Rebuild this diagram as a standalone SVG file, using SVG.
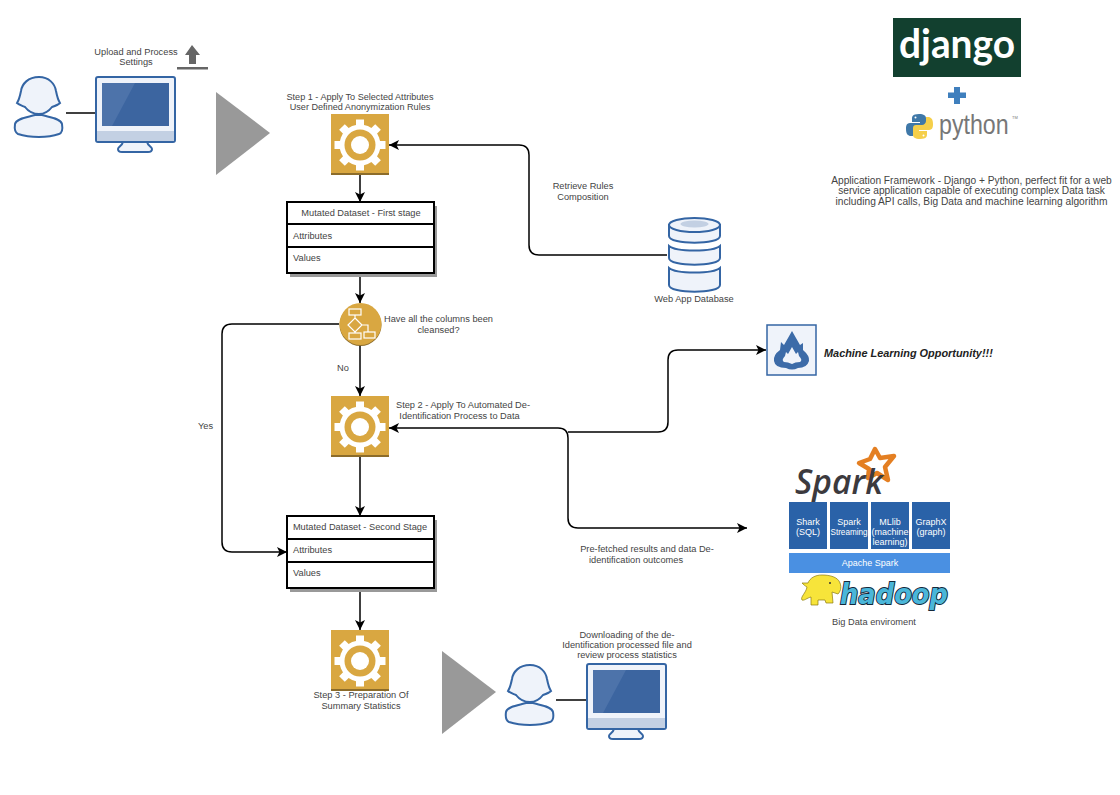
<svg xmlns="http://www.w3.org/2000/svg" xmlns:xlink="http://www.w3.org/1999/xlink" width="1120" height="795" viewBox="0 0 1120 795">
<style>
text{font-family:"Liberation Sans",Arial,sans-serif;font-size:9.250px;fill:#444}
.m{text-anchor:middle}
.c{fill:none;stroke:#000;stroke-width:1.5}
.ca{fill:none;stroke:#000;stroke-width:1.5;marker-end:url(#a)}
.b{stroke:#3465a4;stroke-width:2;fill:#eff3fa}
.t{fill:#fff;stroke:#000;stroke-width:2}
.s{fill:#999}
.w{fill:#fff;font-size:9px}
.bx{fill:#2a62a8}
</style>
<defs>
<marker id="a" markerUnits="userSpaceOnUse" markerWidth="12" markerHeight="12" refX="10" refY="5" orient="auto"><path d="M0 0L10 5L0 10L2.5 5Z" fill="#000"/></marker>
<symbol id="user" overflow="visible">
<path class="b" d="M20 39C14 41 1 42 0 48C-1 55 1 57 3 58C15 62 33 62 44 58C47 57 48 54 47 48C46 42 33 41 27 39Z"/>
<path class="b" d="M24 1C13 1 7 8 6 15C5 20 4 24 2 27C4 29 8 30 10 31C13 35 18 38 24 38C30 38 34 35 37 31C40 30 43 29 45 27C43 24 42 20 41 15C40 8 34 1 24 1Z"/>
</symbol>
<symbol id="monitor" overflow="visible">
<path class="b" d="M2 0H77Q79 0 79 2V63Q79 65 77 65H2Q0 65 0 63V2Q0 0 2 0Z"/>
<path d="M1 54H78V63Q78 64 77 64H2Q1 64 1 63Z" fill="#c3d0e3"/>
<path d="M6 6H73V49H6Z" fill="#3c65a0"/>
<path d="M6 6H39L16 49H6Z" fill="#4d73aa"/>
<path class="b" d="M27 65H51C52 69 56 70 56 72C56 74 54 75 52 75H26C24 75 22 74 22 72C22 70 26 69 27 65Z"/>
</symbol>
<symbol id="gear" overflow="visible">
<rect width="58" height="61" fill="#d9a741"/>
<rect y="59" width="58" height="2" fill="#8c6c2a"/>
<g transform="translate(29 31)" fill="#fff">
<circle r="20.500"/>
<rect x="-4" y="-25.500" width="8" height="8"/><rect x="-4" y="17.500" width="8" height="8"/><rect x="-25.500" y="-4" width="8" height="8"/><rect x="17.500" y="-4" width="8" height="8"/>
<g transform="rotate(45)"><rect x="-4" y="-25.500" width="8" height="8"/><rect x="-4" y="17.500" width="8" height="8"/><rect x="-25.500" y="-4" width="8" height="8"/><rect x="17.500" y="-4" width="8" height="8"/></g>
<circle r="15.500" fill="#d9a741"/>
<circle r="9"/>
</g>
</symbol>
</defs>

<g id="connectors">
<path class="c" d="M66 113H96"/>
<path class="c" d="M556 700H586"/>
<path class="ca" d="M360 175V202"/>
<path class="ca" d="M360 273V303"/>
<path class="ca" d="M360 345V396"/>
<path class="ca" d="M360 457V516"/>
<path class="ca" d="M360 588V630"/>
<path class="ca" d="M339 324H232Q222 324 222 334V542Q222 552 232 552H287"/>
<path class="ca" d="M667 255H539Q529 255 529 245V155Q529 145 519 145H389"/>
<path class="ca" d="M568 432H658Q668 432 668 422V360Q668 350 678 350H766"/>
<path class="ca" d="M558 428H389"/>
<path class="ca" d="M558 428Q568 428 568 438V518Q568 528 578 528H747"/>
</g>

<g id="node-user-1"><use xlink:href="#user" href="#user" x="15" y="76"/></g>
<g id="node-monitor-1"><use xlink:href="#monitor" href="#monitor" x="96" y="77"/></g>
<g id="node-upload-label">
<text class="m" x="136" y="55">Upload and Process</text>
<text class="m" x="136" y="65">Settings</text>
<path d="M192 45L200 55H196V64H189V55H185Z" fill="#666"/>
<rect x="177" y="67" width="31" height="2.500" fill="#666"/>
</g>
<g id="node-triangle-1"><path class="s" d="M216 92L270 133L216 175Z"/></g>

<g id="node-step1">
<text class="m" x="360" y="100" style="font-size:9.100px">Step 1 - Apply To Selected Attributes</text>
<text class="m" x="360" y="110" style="font-size:9.100px">User Defined Anonymization Rules</text>
<use xlink:href="#gear" href="#gear" x="331" y="114"/>
</g>

<g id="node-table-1">
<rect x="290" y="206" width="147" height="71" fill="#999"/>
<rect class="t" x="287" y="202" width="147" height="71"/>
<path d="M287 224H434M287 247H434" stroke="#000" stroke-width="2"/>
<text class="m" x="361" y="216">Mutated Dataset - First stage</text>
<text x="293" y="239">Attributes</text>
<text x="293" y="261">Values</text>
</g>

<g id="node-decision">
<circle cx="360.500" cy="325" r="21" fill="#8c6c2a"/>
<circle cx="360.500" cy="324" r="21" fill="#d9a741"/>
<g fill="none" stroke="#fff" stroke-width="1.200">
<rect x="349" y="309" width="12" height="6"/>
<path d="M355 315V318M355 318L362 325L355 332L348 325ZM362 325H368V332"/>
<path d="M355 332V333"/>
<rect x="349" y="333" width="12" height="6"/>
<rect x="364" y="332" width="11" height="6"/>
</g>
<text class="m" x="438.500" y="322">Have all the columns been</text>
<text class="m" x="438.500" y="333">cleansed?</text>
</g>
<g id="label-no"><text x="337" y="371">No</text></g>
<g id="label-yes"><text x="198" y="429">Yes</text></g>

<g id="node-step2">
<use xlink:href="#gear" href="#gear" x="331" y="396"/>
<text class="m" x="463" y="408">Step 2 - Apply To Automated De-</text>
<text class="m" x="459.500" y="419">Identification Process to Data</text>
</g>

<g id="node-table-2">
<rect x="290" y="520" width="147" height="72" fill="#999"/>
<rect class="t" x="287" y="516" width="147" height="72"/>
<path d="M287 539H434M287 562H434" stroke="#000" stroke-width="2"/>
<text class="m" x="360" y="530">Mutated Dataset - Second Stage</text>
<text x="293" y="553">Attributes</text>
<text x="293" y="576">Values</text>
</g>

<g id="node-step3">
<use xlink:href="#gear" href="#gear" x="331" y="630"/>
<text class="m" x="361" y="698">Step 3 - Preparation Of</text>
<text class="m" x="361" y="709">Summary Statistics</text>
</g>

<g id="node-triangle-2"><path class="s" d="M442 651L496 692L442 734Z"/></g>
<g id="node-user-2"><use xlink:href="#user" href="#user" x="506" y="664"/></g>
<g id="node-monitor-2"><use xlink:href="#monitor" href="#monitor" x="587" y="664"/></g>
<g id="node-download-label">
<text class="m" x="627" y="638">Downloading of the de-</text>
<text class="m" x="627" y="648">Identification processed file and</text>
<text class="m" x="627" y="658">review process statistics</text>
</g>

<g id="node-rules-label">
<text class="m" x="583" y="189">Retrieve Rules</text>
<text class="m" x="583" y="200">Composition</text>
</g>

<g id="node-database">
<path class="b" d="M669 268C676 274 713 274 720 268V285C720 294 669 294 669 285Z"/>
<path class="b" d="M669 246C676 252 713 252 720 246V258C720 267 669 267 669 258Z"/>
<path class="b" d="M669 225V236C669 245 720 245 720 236V225Z"/>
<ellipse class="b" cx="694.500" cy="225" rx="25.500" ry="7"/>
<ellipse cx="694.500" cy="224" rx="14" ry="3.500" fill="#c3d0e3"/>
<text class="m" x="694" y="302">Web App Database</text>
</g>

<g id="node-ml">
<rect class="b" x="767" y="325" width="49" height="50" style="stroke-width:1.500"/>
<path d="M792 331L800 345L803 343L803 350Q810 356 809 361Q807 368 798 368Q792 371 786 368Q775 368 774 361Q773 355 780 350L781 342L784 345ZM792 347L788 354L786 352L785 356Q781 360 784 362Q788 362 792 364Q795 362 800 362Q803 360 799 356L798 352L796 354Z" fill="#3c6ba8" fill-rule="evenodd"/>
<text x="824" y="357" style="font-weight:bold;font-style:italic;font-size:10.900px;fill:#222">Machine Learning Opportunity!!!</text>
</g>

<g id="node-prefetch-label">
<text class="m" x="647" y="552">Pre-fetched results and data De-</text>
<text class="m" x="636" y="563">identification outcomes</text>
</g>

<g id="node-django">
<rect x="893" y="18" width="128" height="59" fill="#12402f"/>
<text x="957" y="58" class="m" textLength="116" lengthAdjust="spacingAndGlyphs" style="font-family:Lato,sans-serif;font-weight:700;font-size:41px;fill:#fff">django</text>
<path d="M954 87H960V92.500H966V98H960V104H954V98H948V92.500H954Z" fill="#3f7fbd"/>
</g>
<g id="node-python">
<path d="M919 114C912 114 912 117 912 119V122H920V123H910C906 123 906 127 906 129C906 134 908 136 911 136H913V132C913 130 915 128 917 128H923C925 128 926 127 926 125V118C926 116 924 114 919 114Z" fill="#3f78a8"/>
<path d="M920 139C927 139 927 136 927 134V131H919V130H929C933 130 933 126 933 124C933 119 931 117 928 117H926V121C926 123 924 125 922 125H916C914 125 913 126 913 128V135C913 137 915 139 920 139Z" fill="#f5cf4a"/>
<circle cx="915.500" cy="117.500" r="1" fill="#fff"/><circle cx="923.500" cy="135.500" r="1" fill="#fff"/>
<text transform="translate(939 134) scale(.86 1)" style="font-size:27px;fill:#777">python</text>
<text x="1012" y="119" style="font-size:4px;fill:#777">TM</text>
</g>
<g id="node-framework-label">
<text class="m" x="971.500" y="184" style="font-size:10.200px">Application Framework - Django + Python, perfect fit for a web</text>
<text class="m" x="971.500" y="194" style="font-size:10.200px">service application capable of executing complex Data task</text>
<text class="m" x="971.500" y="205" style="font-size:10.200px">including API calls, Big Data and machine learning algorithm</text>
</g>

<g id="node-spark">
<path d="M875 449L880 458L894 456L885 467L888 480L877 473L868 478L869 469L859 463L870 459Z" fill="#fff" stroke="#e47f22" stroke-width="4.500" stroke-linejoin="round"/>
<text x="795" y="494" textLength="88" lengthAdjust="spacingAndGlyphs" style="font-family:'Open Sans',sans-serif;font-weight:600;font-size:35px;font-style:italic;fill:#3c3a3e">Spark</text>
<rect class="bx" x="789" y="502" width="38" height="47"/>
<rect class="bx" x="830" y="502" width="38" height="47"/>
<rect class="bx" x="871" y="502" width="38" height="47"/>
<rect class="bx" x="912" y="502" width="38" height="47"/>
<rect x="789" y="553" width="161" height="20" fill="#4a90e2"/>
<text class="m w" x="808" y="525">Shark</text><text class="m w" x="808" y="535">(SQL)</text>
<text class="m w" x="849" y="525">Spark</text><text class="m w" x="849" y="535" textLength="37" lengthAdjust="spacingAndGlyphs">Streaming</text>
<text class="m w" x="890" y="525">MLlib</text><text class="m w" x="890" y="535">(machine</text><text class="m w" x="890" y="545">learning)</text>
<text class="m w" x="931" y="525">GraphX</text><text class="m w" x="931" y="535">(graph)</text>
<text class="m w" x="870" y="566">Apache Spark</text>
</g>
<g id="node-hadoop">
<path d="M822 575C830 575 838 577 840 583C842 588 840 592 838 594L832 592L833 603L826 603L825 600L818 600L818 605L811 605L811 597C807 598 804 601 802 600C800 597 806 593 807 587C805 586 803 584 802 583L808 583C810 578 815 575 822 575Z" fill="#f7e43a" stroke="#8a7a10" stroke-width=".700"/>
<circle cx="830" cy="583" r="1" fill="#333"/>
<text x="840" y="604" textLength="108" lengthAdjust="spacingAndGlyphs" style="font-family:'DejaVu Sans',sans-serif;font-weight:bold;font-style:italic;font-size:28px;fill:#4ab6d9;stroke:#14283a;stroke-width:2px;paint-order:stroke">hadoop</text>
<text class="m" x="874" y="625">Big Data enviroment</text>
</g>
</svg>
